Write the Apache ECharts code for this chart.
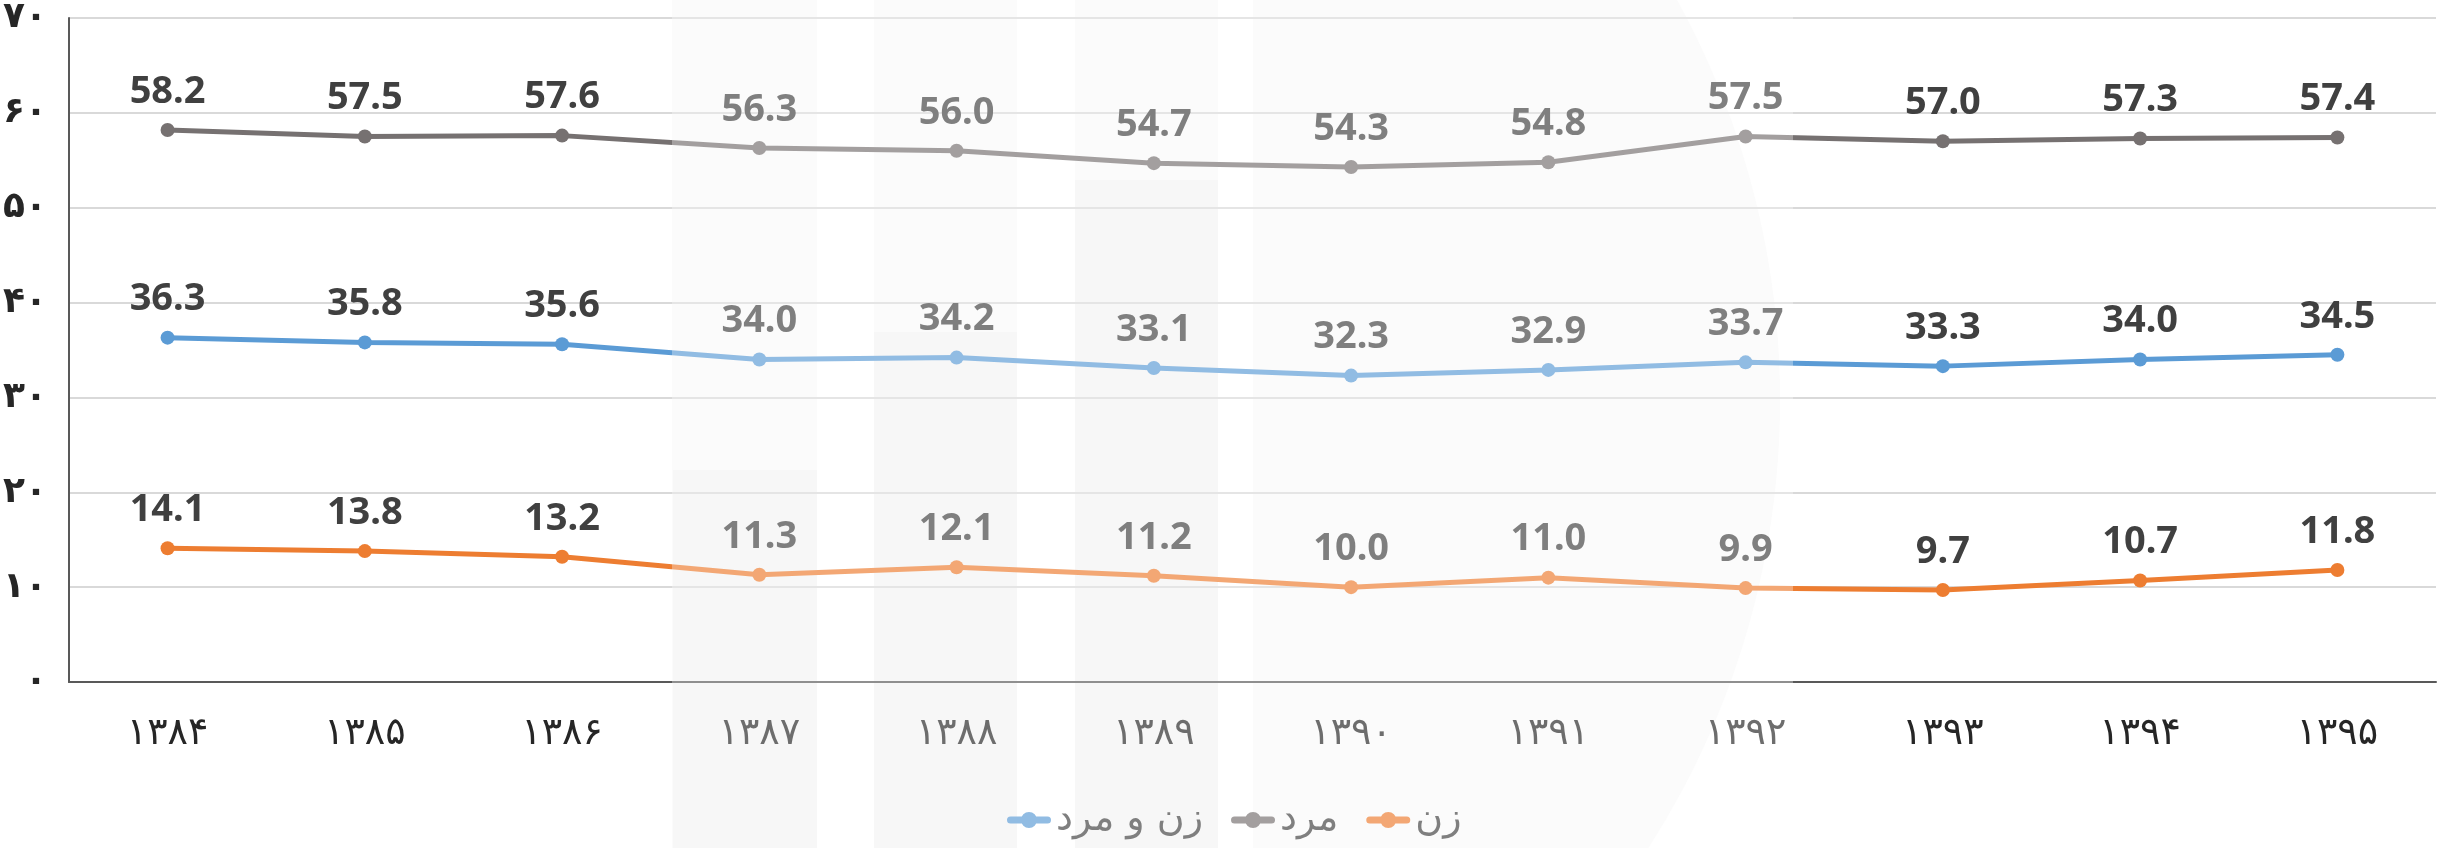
<!DOCTYPE html>
<html>
<head>
<meta charset="utf-8">
<script src="https://cdn.jsdelivr.net/npm/echarts@6/dist/echarts.min.js"></script>
<style>
	html, body { margin: 0; padding: 0; background: #fff; }
	#chart { width: 2453px; height: 848px; }
</style>
</head>
<body>
<div id="chart"></div>
<script>
	var years = ['۱۳۸۴', '۱۳۸۵', '۱۳۸۶', '۱۳۸۷', '۱۳۸۸', '۱۳۸۹', '۱۳۹۰', '۱۳۹۱', '۱۳۹۲', '۱۳۹۳', '۱۳۹۴', '۱۳۹۵'];
	var seriesNames = ['زن و مرد', 'مرد', 'زن'];
	var both = [36.3, 35.8, 35.6, 34.0, 34.2, 33.1, 32.3, 32.9, 33.7, 33.3, 34.0, 34.5];
	var men = [58.2, 57.5, 57.6, 56.3, 56.0, 54.7, 54.3, 54.8, 57.5, 57.0, 57.3, 57.4];
	var women = [14.1, 13.8, 13.2, 11.3, 12.1, 11.2, 10.0, 11.0, 9.9, 9.7, 10.7, 11.8];
	var yMin = 0, yMax = 70, yStep = 10;
	var faDigits = ['۰', '۱', '۲', '۳', '۴', '۵', '۶', '۷', '۸', '۹'];

	function toFa(v) {
		return String(v).replace(/[0-9]/g, function (d) { return faDigits[+d]; });
	}

	var colors = ['#5B9BD5', '#767171', '#ED7D31'];
	var values = [both, men, women];
	// legend marker: thick line with a dot in the middle
	var legendIcon = 'path://M3.5,5.5 L40.5,5.5 A3.5,3.5 0 0,1 40.5,12.5 L3.5,12.5 A3.5,3.5 0 0,1 3.5,5.5 Z M22,1 A8,8 0 1,1 22,17 A8,8 0 1,1 22,1 Z';

	var series = [];
	for (var i = 0; i < seriesNames.length; i++) {
		series.push({
			name: seriesNames[i],
			type: 'line',
			data: values[i],
			symbol: 'circle',
			symbolSize: 14,
			lineStyle: { width: 5, color: colors[i] },
			itemStyle: { color: colors[i] },
			label: {
				show: true,
				position: 'top',
				distance: 12,
				fontFamily: 'Noto Sans',
				fontWeight: 'bold',
				fontSize: 38,
				color: '#404040',
				formatter: function (p) { return p.value.toFixed(1); }
			}
		});
	}

	var legendData = [];
	for (var k = 0; k < seriesNames.length; k++) {
		legendData.push({ name: seriesNames[k], icon: legendIcon });
	}

	var myEchart = echarts.init(document.getElementById('chart'));
	var option = {
		animation: false,
		backgroundColor: '#fff',
		color: colors,
		grid: { left: 68, right: 17, top: 17, bottom: 166 },
		legend: {
			data: legendData,
			left: 1002,
			bottom: 4,
			itemWidth: 44,
			itemHeight: 18,
			itemGap: 28,
			textStyle: { fontFamily: 'DejaVu Sans', fontSize: 38, color: '#404040' }
		},
		xAxis: {
			type: 'category',
			data: years,
			axisLine: { lineStyle: { color: '#595959', width: 2 } },
			axisTick: { show: false },
			axisLabel: { margin: 33, fontFamily: 'DejaVu Sans', fontSize: 38, color: '#262626' }
		},
		yAxis: {
			type: 'value',
			min: yMin,
			max: yMax,
			interval: yStep,
			axisLine: { show: true, lineStyle: { color: '#595959', width: 2 } },
			axisTick: { show: false },
			splitLine: { lineStyle: { color: '#d9d9d9', width: 2 } },
			axisLabel: {
				margin: 22,
				fontFamily: 'DejaVu Sans',
				fontWeight: 'bold',
				fontSize: 36,
				color: '#262626',
				formatter: function (v) { return toFa(v); }
			}
		},
		graphic: [
			// faint watermark logo behind the chart
			{ type: 'circle', z: -3, shape: { cx: 952, cy: 400, r: 828 }, style: { fill: '#f9f9f9' } },
			{ type: 'rect', z: -2, shape: { x: 0, y: 0, width: 672, height: 848 }, style: { fill: '#fff' } },
			{ type: 'rect', z: -2, shape: { x: 817, y: 0, width: 57, height: 848 }, style: { fill: '#fff' } },
			{ type: 'rect', z: -2, shape: { x: 1017, y: 0, width: 58, height: 848 }, style: { fill: '#fff' } },
			{ type: 'rect', z: -2, shape: { x: 1218, y: 0, width: 35, height: 848 }, style: { fill: '#fff' } },
			{ type: 'rect', z: -1, shape: { x: 673, y: 470, width: 144, height: 378 }, style: { fill: '#f3f3f3' } },
			{ type: 'rect', z: -1, shape: { x: 874, y: 332, width: 143, height: 516 }, style: { fill: '#f3f3f3' } },
			{ type: 'rect', z: -1, shape: { x: 1075, y: 180, width: 143, height: 668 }, style: { fill: '#f3f3f3' } },
			// translucent white band over the middle
			{ type: 'rect', z: 100, shape: { x: 672, y: 0, width: 1121, height: 848 }, style: { fill: 'rgba(255,255,255,0.33)' } }
		],
		series: series
	};
	myEchart.setOption(option);
</script>
</body>
</html>
